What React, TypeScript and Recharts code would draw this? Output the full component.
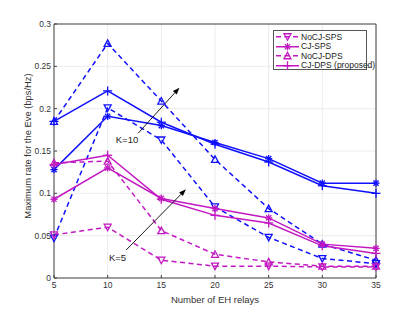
import React from "react"
import { LineChart, Line, XAxis, YAxis, CartesianGrid, ReferenceLine, ReferenceDot, Label } from "recharts"

const relays = [5, 10, 15, 20, 25, 30, 35]
const xTicks = [5, 10, 15, 20, 25, 30, 35]
const yTicks = [0, 0.05, 0.1, 0.15, 0.2, 0.25, 0.3]

// K = 10 (blue)
const noCjSpsK10 = [0.047, 0.201, 0.163, 0.084, 0.048, 0.023, 0.017]
const cjSpsK10 = [0.128, 0.191, 0.180, 0.160, 0.141, 0.112, 0.112]
const noCjDpsK10 = [0.185, 0.277, 0.209, 0.140, 0.082, 0.040, 0.021]
const cjDpsK10 = [0.185, 0.221, 0.184, 0.158, 0.137, 0.109, 0.100]

// K = 5 (magenta)
const noCjSpsK5 = [0.051, 0.060, 0.021, 0.014, 0.014, 0.013, 0.013]
const cjSpsK5 = [0.093, 0.130, 0.094, 0.082, 0.071, 0.040, 0.035]
const noCjDpsK5 = [0.136, 0.138, 0.056, 0.028, 0.019, 0.014, 0.014]
const cjDpsK5 = [0.134, 0.145, 0.093, 0.074, 0.065, 0.038, 0.029]

const BLUE = "#1010ff"
const MAGENTA = "#c218c2"
const FONT = "'Liberation Sans', Arial, Helvetica, sans-serif"

const data = relays.map((n, i) => ({
  n,
  noCjSpsK10: noCjSpsK10[i],
  cjSpsK10: cjSpsK10[i],
  noCjDpsK10: noCjDpsK10[i],
  cjDpsK10: cjDpsK10[i],
  noCjSpsK5: noCjSpsK5[i],
  cjSpsK5: cjSpsK5[i],
  noCjDpsK5: noCjDpsK5[i],
  cjDpsK5: cjDpsK5[i],
}))

type Shape = "down" | "up" | "star" | "plus"

function Marker({ shape, cx, cy, color }: { shape: Shape; cx: number; cy: number; color: string }) {
  if (cx == null || cy == null) return null
  const sw = 1.3
  if (shape === "down") {
    return <polygon points={`${cx - 3.5},${cy - 3} ${cx + 3.5},${cy - 3} ${cx},${cy + 3.5}`} fill="none" stroke={color} strokeWidth={sw} />
  }
  if (shape === "up") {
    return <polygon points={`${cx - 3.5},${cy + 3} ${cx + 3.5},${cy + 3} ${cx},${cy - 3.5}`} fill="none" stroke={color} strokeWidth={sw} />
  }
  if (shape === "star") {
    const r = 3.6
    const d = 2.6
    return (
      <g stroke={color} strokeWidth={sw}>
        <line x1={cx - r} y1={cy} x2={cx + r} y2={cy} />
        <line x1={cx} y1={cy - r} x2={cx} y2={cy + r} />
        <line x1={cx - d} y1={cy - d} x2={cx + d} y2={cy + d} />
        <line x1={cx - d} y1={cy + d} x2={cx + d} y2={cy - d} />
      </g>
    )
  }
  const r = 4.5
  return (
    <g stroke={color} strokeWidth={sw}>
      <line x1={cx - r} y1={cy} x2={cx + r} y2={cy} />
      <line x1={cx} y1={cy - r} x2={cx} y2={cy + r} />
    </g>
  )
}

const makeDot = (name: string, shape: Shape, color: string) => (p: any) => (
  <Marker key={`${name}-${p.index}`} shape={shape} cx={p.cx} cy={p.cy} color={color} />
)

const series = [
  { key: "noCjDpsK10", color: BLUE, shape: "up" as Shape, dashed: true },
  { key: "noCjSpsK10", color: BLUE, shape: "down" as Shape, dashed: true },
  { key: "cjSpsK10", color: BLUE, shape: "star" as Shape, dashed: false },
  { key: "cjDpsK10", color: BLUE, shape: "plus" as Shape, dashed: false },
  { key: "noCjDpsK5", color: MAGENTA, shape: "up" as Shape, dashed: true },
  { key: "noCjSpsK5", color: MAGENTA, shape: "down" as Shape, dashed: true },
  { key: "cjSpsK5", color: MAGENTA, shape: "star" as Shape, dashed: false },
  { key: "cjDpsK5", color: MAGENTA, shape: "plus" as Shape, dashed: false },
]

const legendItems = [
  { label: "NoCJ-SPS", shape: "down" as Shape, dashed: true },
  { label: "CJ-SPS", shape: "star" as Shape, dashed: false },
  { label: "NoCJ-DPS", shape: "up" as Shape, dashed: true },
  { label: "CJ-DPS (proposed)", shape: "plus" as Shape, dashed: false },
]

const Arrow = (props: any) => {
  const { x1, y1, x2, y2 } = props
  const ang = Math.atan2(y2 - y1, x2 - x1)
  const len = 7
  const w = 2.6
  const bx = x2 - len * Math.cos(ang)
  const by = y2 - len * Math.sin(ang)
  const px = -Math.sin(ang) * w
  const py = Math.cos(ang) * w
  return (
    <g>
      <line x1={x1} y1={y1} x2={bx} y2={by} stroke="#000" strokeWidth={0.9} />
      <polygon points={`${x2},${y2} ${bx + px},${by + py} ${bx - px},${by - py}`} fill="#000" />
    </g>
  )
}

const textDot = (txt: string) => (p: any) => (
  <text x={p.cx} y={p.cy} textAnchor="middle" dominantBaseline="central" fontSize={9.5} fontFamily={FONT} fill="#222">
    {txt}
  </text>
)

export default function App() {
  return (
    <div style={{ position: "absolute", left: 0, top: 0, width: 415, height: 312, background: "#fff" }}>
      <LineChart width={415} height={312} data={data} margin={{ top: 24, right: 39, bottom: 0, left: 0 }}>
        <CartesianGrid stroke="#e6e6e6" strokeWidth={0.8} />
        <XAxis
          dataKey="n"
          type="number"
          domain={[5, 35]}
          ticks={xTicks}
          height={34}
          stroke="#444"
          tickSize={-3}
          tickMargin={7}
          tick={{ fontSize: 8.5, fill: "#333", fontFamily: FONT }}
        >
          <Label
            content={(p: any) => {
              const vb = p.viewBox
              return (
                <text x={vb.x + vb.width / 2} y={299} textAnchor="middle" dominantBaseline="central" fontSize={9.5} fontFamily={FONT} fill="#333">
                  Number of EH relays
                </text>
              )
            }}
          />
        </XAxis>
        <YAxis
          type="number"
          domain={[0, 0.3]}
          ticks={yTicks}
          width={54}
          stroke="#444"
          tickSize={-3}
          tickMargin={6}
          tickFormatter={(v: number) => String(v)}
          tick={{ fontSize: 8.5, fill: "#333", fontFamily: FONT }}
        >
          <Label
            content={() => (
              <text x={27} y={146} transform="rotate(-90 27 146)" textAnchor="middle" dominantBaseline="central" fontSize={9.4} fontFamily={FONT} fill="#333">
                Maximum rate for the Eve (bps/Hz)
              </text>
            )}
          />
        </YAxis>
        <ReferenceLine y={0.3} stroke="#444" />
        <ReferenceLine x={35} stroke="#444" />
        {series.map((s) => (
          <Line
            key={s.key}
            dataKey={s.key}
            type="linear"
            stroke={s.color}
            strokeWidth={1.5}
            strokeDasharray={s.dashed ? "5 3.5" : undefined}
            dot={makeDot(s.key, s.shape, s.color)}
            activeDot={false}
            isAnimationActive={false}
          />
        ))}
        <ReferenceLine segment={[{ x: 12.84, y: 0.171 }, { x: 16.69, y: 0.2248 }]} shape={Arrow} />
        <ReferenceLine segment={[{ x: 11.72, y: 0.033 }, { x: 17.29, y: 0.1048 }]} shape={Arrow} />
        <ReferenceDot x={11.8} y={0.164} r={0} shape={textDot("K=10")} />
        <ReferenceDot x={10.92} y={0.0248} r={0} shape={textDot("K=5")} />
      </LineChart>
      <div
        style={{
          position: "absolute",
          left: 273,
          top: 30,
          width: 94,
          height: 40,
          border: "1px solid #555",
          background: "#fff",
          fontFamily: FONT,
          fontSize: 8.5,
          color: "#222",
          boxSizing: "border-box",
          paddingTop: 1,
        }}
      >
        {legendItems.map((it) => (
          <div key={it.label} style={{ display: "flex", alignItems: "center", height: 9.5, whiteSpace: "nowrap" }}>
            <svg width={27} height={9.5} style={{ flexShrink: 0 }}>
              <line x1={2} y1={4.75} x2={25} y2={4.75} stroke={MAGENTA} strokeWidth={1.5} strokeDasharray={it.dashed ? "5 3.5" : undefined} />
              <Marker shape={it.shape} cx={13.5} cy={4.75} color={MAGENTA} />
            </svg>
            <span>{it.label}</span>
          </div>
        ))}
      </div>
    </div>
  )
}
